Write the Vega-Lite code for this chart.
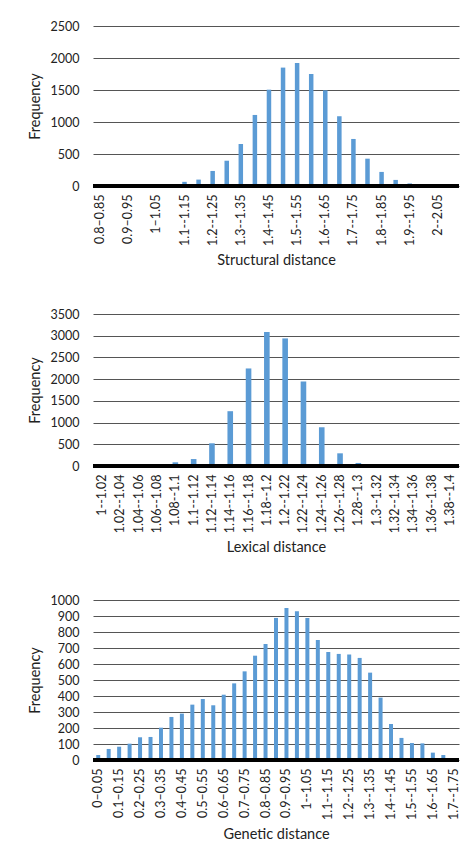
{
  "$schema": "https://vega.github.io/schema/vega-lite/v6.json",
  "padding": {"left": 27, "top": 20, "right": 10, "bottom": 0},
  "background": "white",
  "spacing": 41,
  "config": {
    "font": "Lato",
    "view": {"stroke": null},
    "axis": {"labelFont": "Lato", "titleFont": "Lato", "labelColor": "#222", "titleColor": "#222", "titleFontWeight": "normal", "labelFontSize": 12.5, "titleFontSize": 14.5, "labelOverlap": false},
    "bar": {"color": "#5b9bd5"}
  },
  "vconcat": [
    {
      "width": 366, "height": 160,
      "data": {"values": [
        {"bin": "0.8–0.85", "freq": 0}, {"bin": "0.85–0.9", "freq": 0}, {"bin": "0.9–0.95", "freq": 0}, {"bin": "0.95–1", "freq": 0},
        {"bin": "1–1.05", "freq": 0}, {"bin": "1.05--1.1", "freq": 20}, {"bin": "1.1--1.15", "freq": 65}, {"bin": "1.15--1.2", "freq": 100},
        {"bin": "1.2--1.25", "freq": 235}, {"bin": "1.25--1.3", "freq": 395}, {"bin": "1.3--1.35", "freq": 656}, {"bin": "1.35--1.4", "freq": 1110},
        {"bin": "1.4--1.45", "freq": 1505}, {"bin": "1.45--1.5", "freq": 1850}, {"bin": "1.5--1.55", "freq": 1922}, {"bin": "1.55--1.6", "freq": 1750},
        {"bin": "1.6--1.65", "freq": 1495}, {"bin": "1.65--1.7", "freq": 1090}, {"bin": "1.7--1.75", "freq": 735}, {"bin": "1.75--1.8", "freq": 427},
        {"bin": "1.8--1.85", "freq": 220}, {"bin": "1.85--1.9", "freq": 95}, {"bin": "1.9--1.95", "freq": 40}, {"bin": "1.95--2", "freq": 15},
        {"bin": "2--2.05", "freq": 0}, {"bin": "2.05--2.1", "freq": 0}
      ]},
      "encoding": {
        "x": {"field": "bin", "type": "nominal", "sort": null, "title": "Structural distance",
          "scale": {"paddingInner": 0, "paddingOuter": 0},
          "axis": {"labelAngle": -90, "ticks": false, "domain": false, "labelPadding": 8, "titlePadding": 8,
            "values": ["0.8–0.85", "0.9–0.95", "1–1.05", "1.1--1.15", "1.2--1.25", "1.3--1.35", "1.4--1.45", "1.5--1.55", "1.6--1.65", "1.7--1.75", "1.8--1.85", "1.9--1.95", "2--2.05"]}},
        "y": {"field": "freq", "type": "quantitative", "title": "Frequency",
          "scale": {"domain": [0, 2500], "nice": false},
          "axis": {"values": [0, 500, 1000, 1500, 2000, 2500], "format": "d", "domain": false, "ticks": false, "labelPadding": 14, "titlePadding": 8, "gridColor": "#555", "gridWidth": 1}}
      },
      "layer": [
        {"mark": {"type": "bar", "size": 4.5}},
        {"mark": {"type": "rule", "color": "black", "strokeWidth": 2.5}, "encoding": {"x": null, "y": {"datum": 0, "type": "quantitative"}}}
      ]
    },
    {
      "spacing": 39,
      "vconcat": [
        {
          "width": 366, "height": 152,
          "data": {"values": [
            {"bin": "1--1.02", "freq": 0}, {"bin": "1.02--1.04", "freq": 0}, {"bin": "1.04--1.06", "freq": 0}, {"bin": "1.06--1.08", "freq": 40},
            {"bin": "1.08--1.1", "freq": 85}, {"bin": "1.1--1.12", "freq": 160}, {"bin": "1.12--1.14", "freq": 523}, {"bin": "1.14--1.16", "freq": 1262},
            {"bin": "1.16--1.18", "freq": 2246}, {"bin": "1.18--1.2", "freq": 3085}, {"bin": "1.2--1.22", "freq": 2938}, {"bin": "1.22--1.24", "freq": 1946},
            {"bin": "1.24--1.26", "freq": 892}, {"bin": "1.26--1.28", "freq": 292}, {"bin": "1.28--1.3", "freq": 70}, {"bin": "1.3--1.32", "freq": 0},
            {"bin": "1.32--1.34", "freq": 0}, {"bin": "1.34--1.36", "freq": 0}, {"bin": "1.36--1.38", "freq": 0}, {"bin": "1.38--1.4", "freq": 0}
          ]},
          "encoding": {
            "x": {"field": "bin", "type": "nominal", "sort": null, "title": "Lexical distance",
              "scale": {"paddingInner": 0, "paddingOuter": 0},
              "axis": {"labelAngle": -90, "ticks": false, "domain": false, "labelPadding": 8, "titlePadding": 8}},
            "y": {"field": "freq", "type": "quantitative", "title": "Frequency",
              "scale": {"domain": [0, 3500], "nice": false},
              "axis": {"values": [0, 500, 1000, 1500, 2000, 2500, 3000, 3500], "format": "d", "domain": false, "ticks": false, "labelPadding": 14, "titlePadding": 8, "gridColor": "#555", "gridWidth": 1}}
          },
          "layer": [
            {"mark": {"type": "bar", "size": 5.6}},
            {"mark": {"type": "rule", "color": "black", "strokeWidth": 2.5}, "encoding": {"x": null, "y": {"datum": 0, "type": "quantitative"}}}
          ]
        },
        {
          "width": 366, "height": 160,
          "data": {"values": [
            {"bin": "0–0.05", "freq": 31}, {"bin": "0.05–0.1", "freq": 69}, {"bin": "0.1–0.15", "freq": 83}, {"bin": "0.15–0.2", "freq": 102},
            {"bin": "0.2–0.25", "freq": 142}, {"bin": "0.25–0.3", "freq": 144}, {"bin": "0.3–0.35", "freq": 202}, {"bin": "0.35–0.4", "freq": 269},
            {"bin": "0.4–0.45", "freq": 290}, {"bin": "0.45–0.5", "freq": 346}, {"bin": "0.5–0.55", "freq": 381}, {"bin": "0.55–0.6", "freq": 342},
            {"bin": "0.6–0.65", "freq": 408}, {"bin": "0.65–0.7", "freq": 479}, {"bin": "0.7–0.75", "freq": 554}, {"bin": "0.75–0.8", "freq": 652},
            {"bin": "0.8–0.85", "freq": 725}, {"bin": "0.85–0.9", "freq": 888}, {"bin": "0.9–0.95", "freq": 950}, {"bin": "0.95–1", "freq": 929},
            {"bin": "1--1.05", "freq": 888}, {"bin": "1.05--1.1", "freq": 750}, {"bin": "1.1--1.15", "freq": 675}, {"bin": "1.15--1.2", "freq": 663},
            {"bin": "1.2--1.25", "freq": 660}, {"bin": "1.25--1.3", "freq": 638}, {"bin": "1.3--1.35", "freq": 546}, {"bin": "1.35--1.4", "freq": 390},
            {"bin": "1.4--1.45", "freq": 225}, {"bin": "1.45--1.5", "freq": 138}, {"bin": "1.5--1.55", "freq": 106}, {"bin": "1.55--1.6", "freq": 104},
            {"bin": "1.6--1.65", "freq": 46}, {"bin": "1.65--1.7", "freq": 31}, {"bin": "1.7--1.75", "freq": 0}
          ]},
          "encoding": {
            "x": {"field": "bin", "type": "nominal", "sort": null, "title": "Genetic distance",
              "scale": {"paddingInner": 0, "paddingOuter": 0},
              "axis": {"labelAngle": -90, "ticks": false, "domain": false, "labelPadding": 8, "titlePadding": 8,
                "values": ["0–0.05", "0.1–0.15", "0.2–0.25", "0.3–0.35", "0.4–0.45", "0.5–0.55", "0.6–0.65", "0.7–0.75", "0.8–0.85", "0.9–0.95", "1--1.05", "1.1--1.15", "1.2--1.25", "1.3--1.35", "1.4--1.45", "1.5--1.55", "1.6--1.65", "1.7--1.75"]}},
            "y": {"field": "freq", "type": "quantitative", "title": "Frequency",
              "scale": {"domain": [0, 1000], "nice": false},
              "axis": {"values": [0, 100, 200, 300, 400, 500, 600, 700, 800, 900, 1000], "format": "d", "domain": false, "ticks": false, "labelPadding": 14, "titlePadding": 8, "gridColor": "#555", "gridWidth": 1}}
          },
          "layer": [
            {"mark": {"type": "bar", "size": 4}},
            {"mark": {"type": "rule", "color": "black", "strokeWidth": 2.5}, "encoding": {"x": null, "y": {"datum": 0, "type": "quantitative"}}}
          ]
        }
      ]
    }
  ]
}
